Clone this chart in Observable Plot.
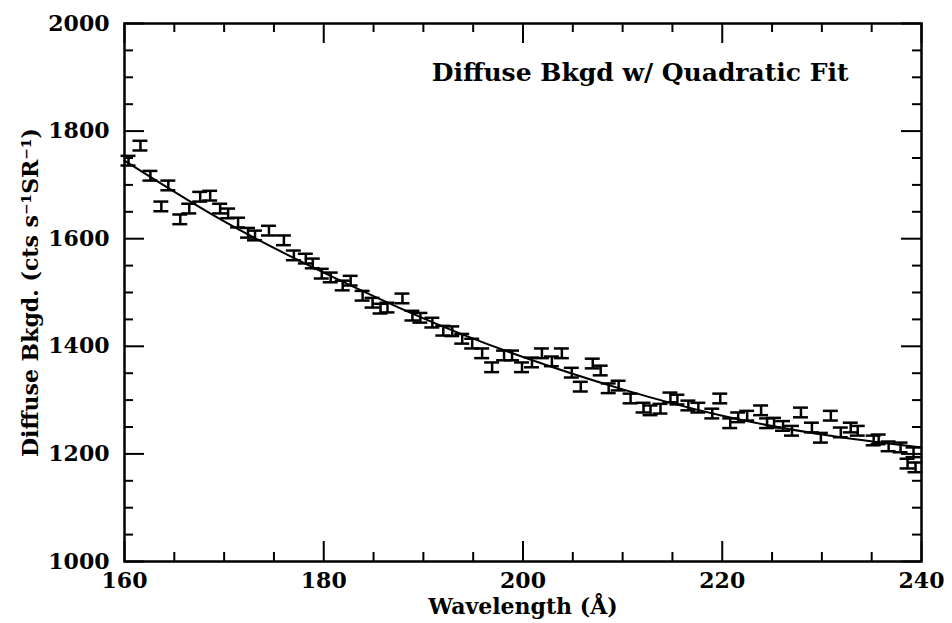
<!DOCTYPE html>
<html><head><meta charset="utf-8">
<script src="https://cdn.jsdelivr.net/npm/d3@7"></script>
<script src="https://cdn.jsdelivr.net/npm/@observablehq/plot@0.6"></script>
<style>body{margin:0;background:#fff}</style>
</head><body><div id="chart"></div>
<script>
// Data
const wavelength = [160.4,161.6,162.6,163.7,164.4,165.6,166.5,167.6,168.6,169.6,170.4,171.4,172.4,173.1,174.5,176.0,
  177.0,178.2,178.9,179.8,180.7,181.9,182.7,183.9,184.9,185.7,186.4,187.9,188.9,189.7,190.9,192.0,192.9,193.9,194.9,
  195.9,196.9,198.1,198.9,199.9,200.9,201.9,202.9,203.9,204.9,205.8,207.0,207.8,208.6,209.6,210.8,212.1,212.8,213.8,
  214.8,215.5,216.6,217.6,219.0,219.8,220.8,221.6,222.5,223.9,224.5,225.2,226.1,227.0,227.9,229.0,229.9,230.9,231.9,
  232.9,233.6,235.2,235.7,236.7,237.9,238.6,239.2,239.4];
const background = [1745,1773,1717,1660,1699,1636,1656,1678,1680,1656,1647,1630,1611,1606,1615,1597,
  1569,1563,1554,1535,1528,1513,1522,1494,1481,1470,1472,1489,1457,1453,1444,1429,1428,1414,1405,
  1387,1361,1383,1383,1361,1370,1387,1372,1387,1351,1325,1368,1355,1322,1327,1303,1286,1281,1284,
  1305,1301,1290,1286,1275,1303,1257,1268,1271,1281,1257,1258,1252,1243,1277,1249,1230,1271,1240,
  1249,1243,1225,1227,1214,1212,1182,1203,1175];
const errHalf = 9;      // half height of error bars (counts)
const capHalf = 0.75;   // half width of bar caps (Å)
const fitWavelength = [160,170,180,190,200,210,220,230,240];
const fitValue = [1745,1632,1537,1452,1380,1320,1271,1236,1212];
const xTickLabels = [160,180,200,220,240];
const xMinorTicks = [165,170,175,185,190,195,205,210,215,225,230,235];
const yTickLabels = [1000,1200,1400,1600,1800,2000];
const yMinorTicks = [1050,1100,1150,1250,1300,1350,1450,1500,1550,1650,1700,1750,1850,1900,1950];
const title = "Diffuse Bkgd w/ Quadratic Fit";
const xLabel = "Wavelength (Å)";
const yLabel = "Diffuse Bkgd. (cts s⁻¹SR⁻¹)";

const points = wavelength.map((w, i) => ({w, v: background[i]}));
const fit = fitWavelength.map((w, i) => ({w, v: fitValue[i]}));

const W = 952, H = 623, mt = 23, mr = 31, mb = 62, ml = 124;
const pw = W - ml - mr, ph = H - mt - mb;
const major = 20, minor = 9;
const font = "DejaVu Serif";
const txt = {fontFamily: font, fontWeight: "bold", fill: "#000"};

const chart = Plot.plot({
  width: W, height: H,
  marginTop: mt, marginRight: mr, marginBottom: mb, marginLeft: ml,
  x: {domain: [160, 240], axis: null},
  y: {domain: [1000, 2000], axis: null},
  style: {fontFamily: font, color: "#000", background: "#fff"},
  marks: [
    // tick labels
    Plot.text(xTickLabels, {...txt, x: d => d, frameAnchor: "bottom", dy: 19, lineAnchor: "middle", textAnchor: "middle", text: d => String(d), fontSize: 22}),
    Plot.text(yTickLabels, {...txt, y: d => d, frameAnchor: "left", dx: -15, lineAnchor: "middle", textAnchor: "end", text: d => String(d), fontSize: 22}),
    // inward ticks on all four sides
    Plot.tickX(xTickLabels, {x: d => d, insetTop: ph - major, strokeWidth: 2}),
    Plot.tickX(xTickLabels, {x: d => d, insetBottom: ph - major, strokeWidth: 2}),
    Plot.tickX(xMinorTicks, {x: d => d, insetTop: ph - minor, strokeWidth: 2}),
    Plot.tickX(xMinorTicks, {x: d => d, insetBottom: ph - minor, strokeWidth: 2}),
    Plot.tickY(yTickLabels, {y: d => d, insetRight: pw - major, strokeWidth: 2}),
    Plot.tickY(yTickLabels, {y: d => d, insetLeft: pw - major, strokeWidth: 2}),
    Plot.tickY(yMinorTicks, {y: d => d, insetRight: pw - minor, strokeWidth: 2}),
    Plot.tickY(yMinorTicks, {y: d => d, insetLeft: pw - minor, strokeWidth: 2}),
    Plot.frame({stroke: "#000", strokeWidth: 2.5}),
    // quadratic fit
    Plot.line(fit, {x: "w", y: "v", curve: "natural", stroke: "#000", strokeWidth: 2}),
    // error bars
    Plot.ruleX(points, {x: "w", y1: d => d.v - errHalf, y2: d => d.v + errHalf, stroke: "#000", strokeWidth: 2.5}),
    Plot.ruleY(points, {y: d => d.v + errHalf, x1: d => d.w - capHalf, x2: d => d.w + capHalf, stroke: "#000", strokeWidth: 2.5}),
    Plot.ruleY(points, {y: d => d.v - errHalf, x1: d => d.w - capHalf, x2: d => d.w + capHalf, stroke: "#000", strokeWidth: 2.5}),
    // texts
    Plot.text([title], {...txt, frameAnchor: "top-right", dx: -73, dy: 49, textAnchor: "end", lineAnchor: "middle", fontSize: 25}),
    Plot.text([xLabel], {...txt, frameAnchor: "bottom", dy: 45, textAnchor: "middle", lineAnchor: "middle", fontSize: 22}),
    Plot.text([yLabel], {...txt, frameAnchor: "left", dx: -94, rotate: -90, textAnchor: "middle", lineAnchor: "middle", fontSize: 22})
  ]
});
document.getElementById("chart").appendChild(chart);
</script>
</body></html>
